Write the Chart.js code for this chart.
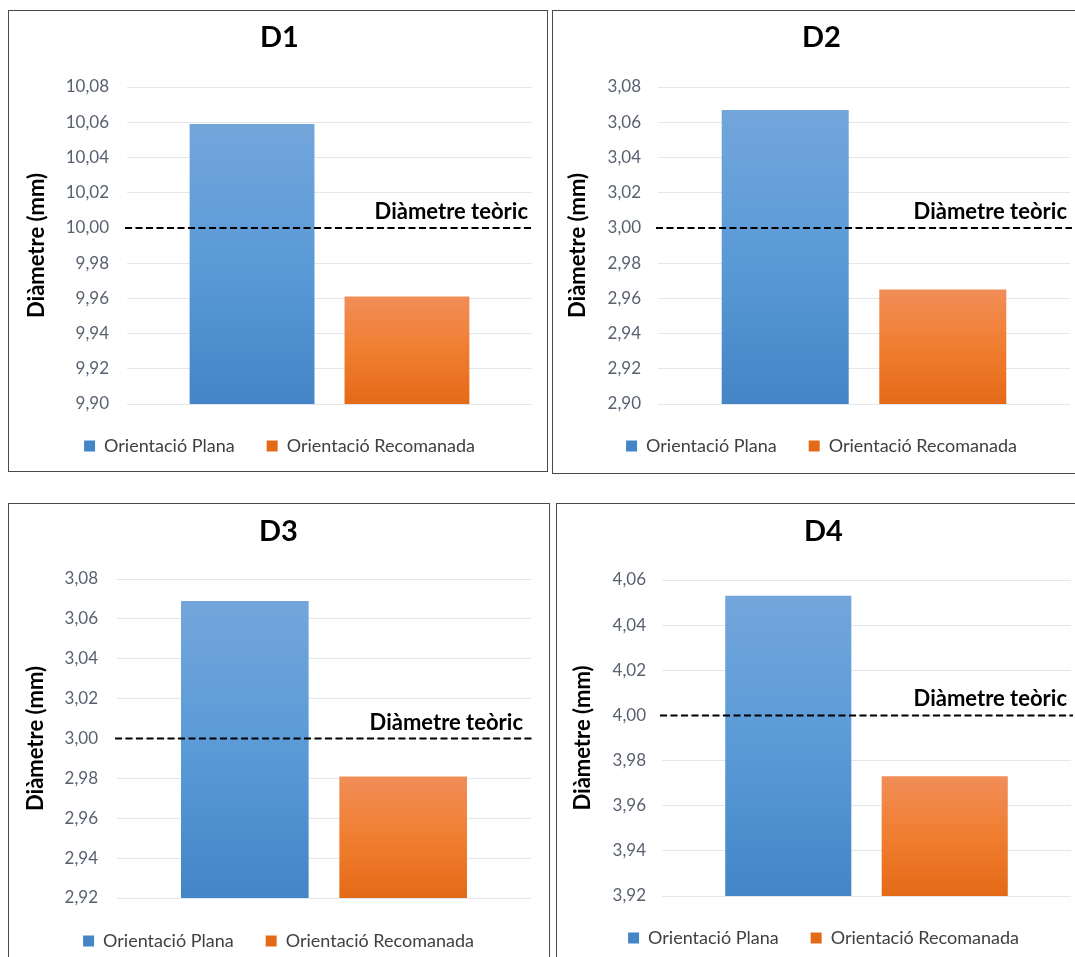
<!DOCTYPE html>
<html>
<head>
<meta charset="utf-8">
<script src="https://cdn.jsdelivr.net/npm/chart.js@4.4.1/dist/chart.umd.min.js"></script>
<style>
  html, body { margin: 0; padding: 0; width: 1075px; height: 957px; overflow: hidden; background: #fff; }
  .frame { position: absolute; box-sizing: border-box; border: 1px solid #4a4a4a; background: #fff; }
  canvas { position: absolute; }
</style>
</head>
<body>
<div class="frame" style="left:8px;top:10px;width:540px;height:462px;"></div>
<div class="frame" style="left:552px;top:10px;width:540px;height:464px;"></div>
<div class="frame" style="left:8px;top:503px;width:542px;height:500px;"></div>
<div class="frame" style="left:556px;top:503px;width:540px;height:500px;"></div>
<canvas id="c0" width="541" height="460" style="left:9px;top:11px;"></canvas>
<canvas id="c1" width="537" height="462" style="left:553px;top:11px;"></canvas>
<canvas id="c2" width="539" height="460" style="left:9px;top:504px;"></canvas>
<canvas id="c3" width="533" height="460" style="left:557px;top:504px;"></canvas>
<script>
// dades (llegides del gràfic)
const panelNames = ['D1', 'D2', 'D3', 'D4'];
const seriesNames = ['Orientació Plana', 'Orientació Recomanada'];
const planaValues = [10.059, 3.067, 3.069, 4.053];
const recomanadaValues = [9.961, 2.965, 2.981, 3.973];
const theoreticValues = [10.00, 3.00, 3.00, 4.00];
const axisMin = [9.90, 2.90, 2.92, 3.92];
const axisMax = [10.08, 3.08, 3.08, 4.06];
const axisStep = 0.02;
const axisTitle = 'Diàmetre (mm)';
const theoreticLabel = 'Diàmetre teòric';

// maquetació de cada panell (pad = marge esquerre i dret iguals, per centrar títol i llegenda)
const layouts = [
  { pad: 18, yW: 100, tickPad: 18, axPad: -1, tTop: 9.6,  tBot: 31.6, xH: 1, padB: 6, inset: 4 },
  { pad: 20, yW: 85,  tickPad: 17, axPad: -6, tTop: 9.6,  tBot: 31.6, xH: 1, padB: 8, inset: 3 },
  { pad: 17, yW: 91,  tickPad: 19, axPad: -1, tTop: 10.6, tBot: 29.6, xH: 2, padB: 4, inset: 8 },
  { pad: 19, yW: 86,  tickPad: 16, axPad: -4, tTop: 10.6, tBot: 30.6, xH: 1, padB: 7, inset: 4 }
];

const FONT = 'Lato, "Open Sans", sans-serif';
const blueStops = [[0, '#73a6db'], [0.5, '#5a9ad7'], [1, '#4385c6']];
const orangeStops = [[0, '#f18d58'], [0.5, '#f07e30'], [1, '#e36a17']];

function barFill(stops, solid) {
  return (c) => {
    if (c.type !== 'data') return solid;
    const chart = c.chart;
    const area = chart.chartArea;
    if (!area) return solid;
    const top = chart.scales.y.getPixelForValue(c.raw);
    const g = chart.ctx.createLinearGradient(0, top, 0, area.bottom);
    stops.forEach(s => g.addColorStop(s[0], s[1]));
    return g;
  };
}

// línia discontínua del diàmetre teòric
const theoryLine = {
  id: 'theoryLine',
  afterDatasetsDraw(chart, args, opts) {
    const { ctx, chartArea, scales: { y } } = chart;
    const py = y.getPixelForValue(opts.value);
    ctx.save();
    ctx.strokeStyle = '#000';
    ctx.lineWidth = 2;
    ctx.setLineDash([7, 3.5]);
    ctx.beginPath();
    ctx.moveTo(chartArea.left - 2, py);
    ctx.lineTo(chartArea.right + 2, py);
    ctx.stroke();
    ctx.setLineDash([]);
    ctx.font = 'bold 22px ' + FONT;
    ctx.fillStyle = '#000';
    ctx.textAlign = 'right';
    ctx.textBaseline = 'alphabetic';
    ctx.fillText(opts.text, chartArea.right - opts.inset, py - 9);
    ctx.restore();
  }
};

panelNames.forEach((name, i) => {
  const L = layouts[i];
  new Chart(document.getElementById('c' + i), {
    type: 'bar',
    data: {
      labels: [''],
      datasets: [
        { label: seriesNames[0], data: [planaValues[i]], backgroundColor: barFill(blueStops, '#4f8fd1'), borderWidth: 0 },
        { label: seriesNames[1], data: [recomanadaValues[i]], backgroundColor: barFill(orangeStops, '#ee7a2e'), borderWidth: 0 }
      ]
    },
    options: {
      responsive: false,
      animation: false,
      layout: { padding: { left: L.pad, right: L.pad, top: 0, bottom: L.padB } },
      categoryPercentage: 0.765,
      barPercentage: 0.806,
      scales: {
        x: {
          grid: { display: false },
          border: { display: false },
          ticks: { display: false },
          afterFit: s => { s.height = L.xH; }
        },
        y: {
          min: axisMin[i],
          max: axisMax[i],
          grid: { color: '#e3e7ed', lineWidth: 1, drawTicks: false },
          border: { display: false },
          ticks: {
            stepSize: axisStep,
            padding: L.tickPad,
            color: '#59616f',
            font: { family: FONT, size: 17 },
            callback: v => v.toFixed(2).replace('.', ',')
          },
          title: {
            display: true,
            text: axisTitle,
            color: '#000',
            font: { family: FONT, size: 22, weight: 'bold', lineHeight: 1 },
            padding: { top: L.axPad, bottom: 0 }
          },
          afterFit: s => { s.width = L.yW; }
        }
      },
      plugins: {
        title: {
          display: true,
          text: name,
          color: '#000',
          font: { family: FONT, size: 29, weight: 'bold' },
          padding: { top: L.tTop, bottom: L.tBot }
        },
        legend: {
          position: 'bottom',
          labels: {
            boxWidth: 11,
            boxHeight: 11,
            padding: 32,
            color: '#404040',
            font: { family: FONT, size: 18 }
          }
        },
        tooltip: { enabled: false },
        theoryLine: { value: theoreticValues[i], text: theoreticLabel, inset: L.inset }
      }
    },
    plugins: [theoryLine]
  });
});
</script>
</body>
</html>
